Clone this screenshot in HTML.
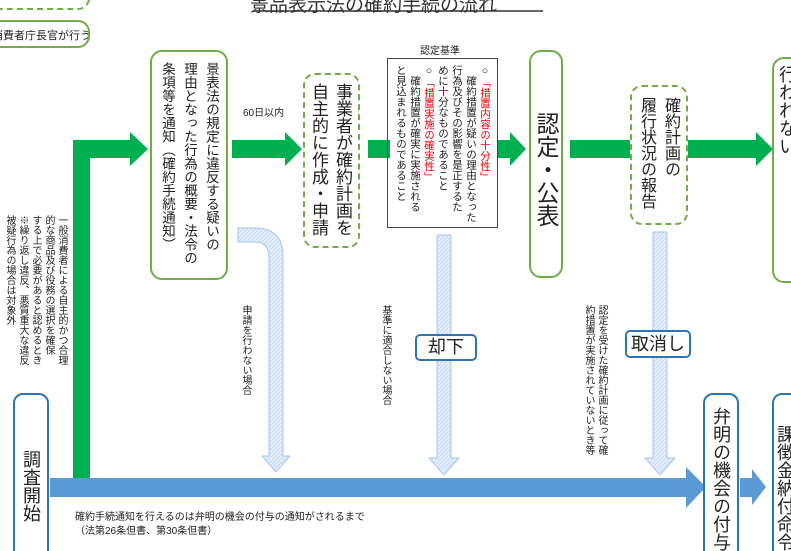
<!DOCTYPE html>
<html style="overflow:hidden;height:551px"><head><meta charset="utf-8"><style>
body{margin:0;width:791px;height:551px;overflow:hidden;background:#fff;position:relative;font-family:"Liberation Sans","Noto Sans CJK JP",sans-serif;color:#222}
.a{position:absolute}
.v{writing-mode:vertical-rl;position:absolute;white-space:nowrap}
.g{border:2px solid #70ad47;border-radius:12px;background:#fff;box-sizing:border-box}
.gd{border:2px dashed #70ad47;border-radius:12px;background:#fff;box-sizing:border-box}
.b{border:2px solid #2e75b6;border-radius:10px;background:#fff;box-sizing:border-box}
.r{color:#e00}
</style></head><body>
<svg class="a" style="left:0;top:0" width="791" height="551">
<defs><pattern id="h" width="4" height="4" patternUnits="userSpaceOnUse"><rect width="4" height="4" fill="#e4eef9"/><path d="M0 4L4 0" stroke="#c5d9f0" stroke-width="1"/></pattern></defs>
<path d="M73 478V140H130V132L148 149L130 166V158H90V478Z" fill="#00b050"/>
<path d="M232 140H285V132L302 149L285 166V158H232Z" fill="#00b050"/>
<rect x="368" y="140" width="22" height="18" fill="#00b050"/>
<path d="M498 140H510V132L526 149L510 166V158H498Z" fill="#00b050"/>
<path d="M570 140H756V132L773 149L756 166V158H570Z" fill="#00b050"/>
<path d="M238 228H255Q283 228 283 256V456H290L276 472L262 456H269V258Q269 242 255 242H238Z" fill="url(#h)" stroke="#a9c8ea"/>
<path d="M437 235H451V458H459L444 475L429 458H437Z" fill="url(#h)" stroke="#a9c8ea"/>
<path d="M653 232H667V458H675L660 475L645 458H653Z" fill="url(#h)" stroke="#a9c8ea"/>
<path d="M50 478H686V467L706 487L686 508V497H50Z" fill="#5b9bd5"/>
<path d="M740 478H752V469L766 487L752 505V497H740Z" fill="#5b9bd5"/>
<line x1="253" y1="11" x2="543" y2="11" stroke="#333" stroke-width="1.5"/>
</svg>
<div class="a" style="left:250px;top:-10px;font-size:19px;white-space:nowrap;color:#333">景品表示法の確約手続の流れ</div>
<div class="a gd" style="left:-20px;top:-20px;width:110px;height:30px"></div>
<div class="a g" style="left:-20px;top:20px;width:110px;height:28px;font-size:11px;padding:5px 0 0 10px;white-space:nowrap;overflow:hidden">消費者庁長官が行う</div>

<div class="v g" style="left:150px;top:50px;width:78px;height:230px;font-size:13.5px;line-height:22px;padding:10px 4px 0 0;text-align:left;overflow:hidden">景表法の規定に違反する疑いの<br>理由となった行為の概要・法令の<br>条項等を通知（確約手続通知）</div>
<div class="a" style="left:243px;top:104px;font-size:10px">60日以内</div>
<div class="v gd" style="left:303px;top:73px;width:57px;height:175px;font-size:17px;line-height:24px;padding:8px 4px 0 0;overflow:hidden">事業者が確約計画を<br>自主的に作成・申請</div>
<div class="a" style="left:420px;top:42px;font-size:10px">認定基準</div>
<div class="v" style="left:387px;top:58px;width:111px;height:170px;border:1.5px solid #444;box-sizing:border-box;font-size:10.5px;line-height:14px;padding:6px 5px 0 0"><span>○<span class="r">「措置内容の十分性」</span></span><br>　確約措置が疑いの理由となった<br>行為及びその影響を是正するた<br>めに十分なものであること<br><span>○<span class="r">「措置実施の確実性」</span></span><br>　確約措置が確実に実施される<br>と見込まれるものであること</div>
<div class="v g" style="left:529px;top:50px;width:34px;height:228px;font-size:23px;line-height:30px;padding:60px 0 0 0">認定・公表</div>
<div class="v gd" style="left:630px;top:85px;width:58px;height:140px;font-size:16px;line-height:24px;padding:10px 4px 0 0;overflow:hidden">確約計画の<br>履行状況の報告</div>
<div class="v g" style="left:772px;top:57px;width:40px;height:226px;font-size:18px;line-height:22px;padding:6px 12px 0 0">行われない</div>

<div class="v" style="left:3px;top:215px;font-size:10px;line-height:13px">一般消費者による自主的かつ合理<br>的な商品及び役務の選択を確保<br>する上で必要があると認めるとき<br>※繰り返し違反、悪質重大な違反<br>被疑行為の場合は対象外</div>
<div class="v" style="left:238px;top:305px;font-size:10px">申請を行わない場合</div>
<div class="v" style="left:378px;top:305px;font-size:10px">基準に適合しない場合</div>
<div class="v" style="left:582px;top:305px;font-size:10px;line-height:13px">認定を受けた確約計画に従って確<br>約措置が実施されていないとき等</div>
<div class="a b" style="left:415px;top:334px;width:62px;height:27px;font-size:18px;text-align:center;line-height:23px;border-radius:5px">却下</div>
<div class="a b" style="left:625px;top:330px;width:66px;height:28px;font-size:18px;text-align:center;line-height:24px;border-radius:5px">取消し</div>

<div class="v b" style="left:13px;top:393px;width:36px;height:170px;font-size:18px;line-height:26px;padding:55px 3px 0 0">調査開始</div>
<div class="v b" style="left:703px;top:393px;width:36px;height:170px;font-size:18px;line-height:26px;padding:12px 3px 0 0">弁明の機会の付与</div>
<div class="v b" style="left:772px;top:393px;width:40px;height:170px;font-size:18px;line-height:22px;padding:30px 14px 0 0">課徴金納付命令</div>
<div class="a" style="left:75px;top:511px;font-size:10px;line-height:14px;white-space:nowrap">確約手続通知を行えるのは弁明の機会の付与の通知がされるまで<br>（法第26条但書、第30条但書）</div>
</body></html>
